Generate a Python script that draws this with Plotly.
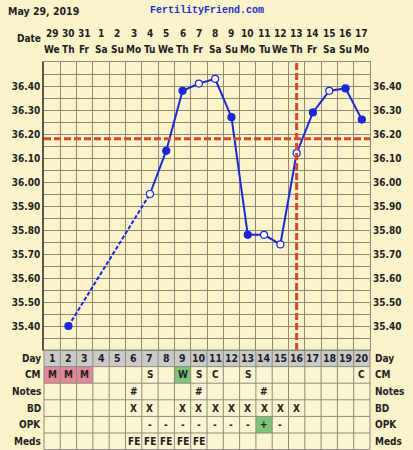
import plotly.graph_objects as go

# ---------------- data ----------------
dates = ["29", "30", "31", "1", "2", "3", "4", "5", "6", "7", "8", "9", "10",
         "11", "12", "13", "14", "15", "16", "17"]
weekdays = ["We", "Th", "Fr", "Sa", "Su", "Mo", "Tu", "We", "Th", "Fr", "Sa",
            "Su", "Mo", "Tu", "We", "Th", "Fr", "Sa", "Su", "Mo"]
cycle_days = list(range(1, 21))

temp_days = [2, 7, 8, 9, 10, 11, 12, 13, 14, 15, 16, 17, 18, 19, 20]
temps = [35.40, 35.95, 36.13, 36.38, 36.41, 36.43, 36.27, 35.78, 35.78,
         35.74, 36.12, 36.29, 36.38, 36.39, 36.26]
open_marker = [False, True, False, False, True, True, False, False, True,
               True, True, False, True, False, False]

coverline = 36.18
ovulation_day = 16

cm_row = {1: "M", 2: "M", 3: "M", 7: "S", 9: "W", 10: "S", 11: "C", 13: "S", 20: "C"}
notes_row = {6: "#", 10: "#", 14: "#"}
bd_row = {6: "X", 7: "X", 9: "X", 10: "X", 11: "X", 12: "X", 13: "X", 14: "X", 15: "X", 16: "X"}
opk_row = {7: "-", 8: "-", 9: "-", 10: "-", 11: "-", 12: "-", 13: "-", 14: "+", 15: "-"}
meds_row = {6: "FE", 7: "FE", 8: "FE", 9: "FE", 10: "FE"}
row_labels = ["Day", "CM", "Notes", "BD", "OPK", "Meds"]

y_ticks = [round(35.30 + 0.05 * i, 2) for i in range(25)]
y_text = [f"{v:.2f}" if (i % 2 == 0 and 0 < i < 24) else "" for i, v in enumerate(y_ticks)]

# ---------------- style ----------------
W, H = 413, 450
L, R, T, B = 43, 41, 62, 100
PW, PH = W - L - R, H - T - B
BG = "#FBF3C9"
GRID = "#8E8A78"
BLUE = "#1B27D8"
RED = "#E0452C"
TXT = "#222222"
FONT = "DejaVu Sans Condensed, DejaVu Sans, sans-serif"
ROW_H = 16.6


def ypx(px):
    return (H - B - px) / PH


def xpx(px):
    return (px - L) / PW


def xcol(d):
    return (d - 0.5) / 20.0


fig = go.Figure()

# dashed segment across the gap
fig.add_trace(go.Scatter(x=temp_days[0:2], y=temps[0:2], mode="lines",
                         line=dict(color=BLUE, width=2, dash="4px,2px"),
                         hoverinfo="skip", showlegend=False))
# solid line
fig.add_trace(go.Scatter(x=temp_days[1:], y=temps[1:], mode="lines",
                         line=dict(color=BLUE, width=2),
                         hoverinfo="skip", showlegend=False))
# markers
fig.add_trace(go.Scatter(
    x=temp_days, y=temps, mode="markers",
    marker=dict(size=7, color=["white" if o else BLUE for o in open_marker],
                line=dict(color=BLUE, width=1.2)),
    showlegend=False))
# invisible trace for the right axis
fig.add_trace(go.Scatter(x=[10], y=[36.0], yaxis="y2", mode="markers",
                         marker=dict(opacity=0), hoverinfo="skip", showlegend=False))

shapes = []
# coverline and ovulation line
shapes.append(dict(type="line", xref="paper", yref="y", x0=0, x1=1, y0=coverline, y1=coverline,
                   line=dict(color=RED, width=3, dash="7px,3px"), layer="above"))
shapes.append(dict(type="line", xref="x", yref="paper", x0=ovulation_day, x1=ovulation_day,
                   y0=0, y1=1, line=dict(color=RED, width=3, dash="7px,3px"), layer="above"))

# table
tbl_top = ypx(H - B)
tbl_bot = ypx(H - B + 6 * ROW_H)
shapes.append(dict(type="rect", xref="paper", yref="paper", x0=0, x1=1, y0=tbl_bot, y1=tbl_top,
                   fillcolor="#FCF5D4", line=dict(width=0), layer="below"))
shapes.append(dict(type="rect", xref="paper", yref="paper", x0=0, x1=1,
                   y0=ypx(H - B + ROW_H), y1=tbl_top,
                   fillcolor="#CACACA", line=dict(width=0), layer="below"))


def cell_fill(d, row, color):
    shapes.append(dict(type="rect", xref="paper", yref="paper",
                       x0=xcol(d - 0.5), x1=xcol(d + 0.5),
                       y0=ypx(H - B + (row + 1) * ROW_H), y1=ypx(H - B + row * ROW_H),
                       fillcolor=color, line=dict(width=0), layer="below"))


for d, v in cm_row.items():
    if v == "M":
        cell_fill(d, 1, "#E3879A")
    elif v == "W":
        cell_fill(d, 1, "#7CC47A")
for d, v in opk_row.items():
    if v == "+":
        cell_fill(d, 4, "#7CC47A")

for i in range(7):
    y = ypx(H - B + i * ROW_H)
    shapes.append(dict(type="line", xref="paper", yref="paper", x0=0, x1=1, y0=y, y1=y,
                       line=dict(color=GRID, width=1)))
for d in range(21):
    x = d / 20.0
    shapes.append(dict(type="line", xref="paper", yref="paper", x0=x, x1=x,
                       y0=tbl_bot, y1=tbl_top, line=dict(color=GRID, width=1)))

ann = []
tfont = dict(family=FONT, size=10, color=TXT, weight="bold")

# header
ann.append(dict(text="May 29, 2019", xref="paper", yref="paper", x=xpx(5), y=ypx(11),
                xanchor="left", yanchor="middle", showarrow=False,
                font=dict(family=FONT, size=10.5, color=TXT, weight="bold")))
ann.append(dict(text="FertilityFriend.com", xref="paper", yref="paper", x=xpx(208), y=ypx(10.5),
                xanchor="center", yanchor="middle", showarrow=False,
                font=dict(family="Liberation Mono, monospace", size=10, color="#1D2FCC", weight="bold")))
ann.append(dict(text="Date", xref="paper", yref="paper", x=xpx(42), y=ypx(38),
                xanchor="right", yanchor="middle", showarrow=False, font=tfont))
for d, ds, wd in zip(cycle_days, dates, weekdays):
    ann.append(dict(text=ds, xref="x", yref="paper", x=d, y=ypx(33),
                    xanchor="center", yanchor="middle", showarrow=False, font=tfont))
    ann.append(dict(text=wd, xref="x", yref="paper", x=d, y=ypx(49),
                    xanchor="center", yanchor="middle", showarrow=False, font=tfont))

# table texts
rows = [{d: str(d) for d in cycle_days}, cm_row, notes_row, bd_row, opk_row, meds_row]
for r, (lab, content) in enumerate(zip(row_labels, rows)):
    yc = ypx(H - B + (r + 0.5) * ROW_H)
    ann.append(dict(text=lab, xref="paper", yref="paper", x=xpx(42), y=yc,
                    xanchor="right", yanchor="middle", showarrow=False, font=tfont))
    ann.append(dict(text=lab, xref="paper", yref="paper", x=xpx(375), y=yc,
                    xanchor="left", yanchor="middle", showarrow=False, font=tfont))
    for d, v in content.items():
        ann.append(dict(text=v, xref="x", yref="paper", x=d, y=yc,
                        xanchor="center", yanchor="middle", showarrow=False,
                        font=dict(family=FONT, size=10.5 if r == 0 else 10, color=TXT, weight="bold")))

axis_font = dict(family=FONT, size=10, color=TXT, weight="bold")
fig.update_layout(
    width=W, height=H, autosize=False,
    margin=dict(l=L, r=R, t=T, b=B, pad=0),
    paper_bgcolor=BG, plot_bgcolor=BG,
    shapes=shapes, annotations=ann,
    xaxis=dict(range=[0.5, 20.5], tickvals=[i + 0.5 for i in range(21)], showticklabels=False,
               showgrid=True, gridcolor=GRID, gridwidth=1, zeroline=False, ticks="",
               showline=True, linecolor=GRID, linewidth=1, mirror=True, fixedrange=True),
    yaxis=dict(range=[35.30, 36.50], tickvals=y_ticks, ticktext=y_text, showgrid=True,
               gridcolor=GRID, gridwidth=1, zeroline=False, ticks="", tickfont=axis_font,
               showline=True, linecolor="#5A5748", linewidth=1.5, fixedrange=True),
    yaxis2=dict(range=[35.30, 36.50], tickvals=y_ticks, ticktext=y_text, overlaying="y",
                side="right", showgrid=False, zeroline=False, ticks="", tickfont=axis_font,
                showline=True, linecolor=GRID, linewidth=1, fixedrange=True),
    showlegend=False,
)

fig.write_html(
    "out.html",
    config={"displayModeBar": False},
    post_script="document.body.style.margin='0';document.body.style.overflow='hidden';"
                "document.body.style.background='" + BG + "';",
)
